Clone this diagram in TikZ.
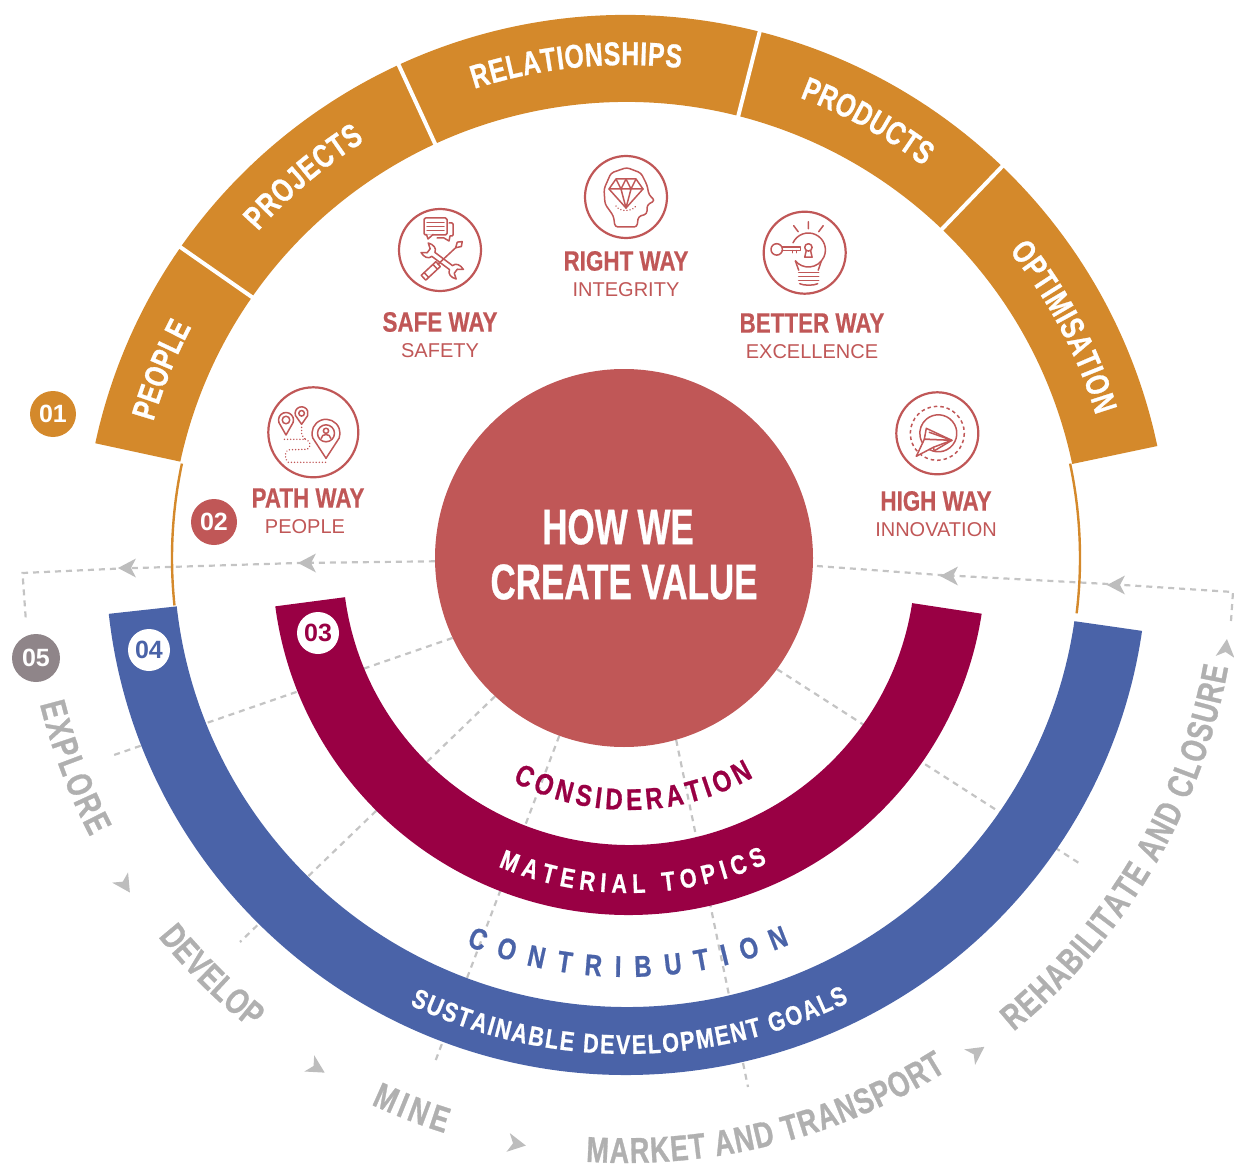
\documentclass[tikz,border=0pt]{standalone}
\usepackage{fontspec}
\setmainfont{Liberation Sans}
\newfontfamily\condfont[FakeStretch=0.75,BoldFeatures={FakeBold=0.8}]{Liberation Sans}
\newfontfamily\waytfont[FakeStretch=0.80,BoldFeatures={FakeBold=0.5}]{Liberation Sans}
\newfontfamily\coretext[FakeStretch=0.70,BoldFeatures={FakeBold=0.7}]{Liberation Sans}
\newfontfamily\waterfont[FakeStretch=0.80,BoldFeatures={FakeBold=0.7}]{Liberation Sans}
\usetikzlibrary{decorations.text,backgrounds}
\definecolor{orangeB}{HTML}{D4892B}
\definecolor{redC}{HTML}{C05757}
\definecolor{magB}{HTML}{990044}
\definecolor{blueB}{HTML}{4A63A8}
\definecolor{gr5}{HTML}{8F8589}
\definecolor{grT}{HTML}{B0B0B0}
\definecolor{grA}{HTML}{BDBDBD}
\definecolor{grD}{HTML}{C4C4C4}
\tikzset{
  flow/.style={draw=grD,line width=2.2pt,dash pattern=on 6pt off 5pt},
  sepline/.style={draw=white,line width=4pt},
  badge/.style={circle,inner sep=0pt,minimum size=#1,font=\fontsize{25}{25}\selectfont\bfseries},
  waytitle/.style={text=redC,font=\fontsize{28}{28}\selectfont\waytfont\bfseries,inner sep=0pt},
  waysub/.style={text=redC,font=\fontsize{20}{20}\selectfont,inner sep=0pt},
  icon/.style={circle,draw=redC,line width=2.2pt,inner sep=0pt,minimum size=#1},
  il/.style={draw=redC,line width=1.5pt,line join=round,line cap=round},
  ild/.style={draw=redC,line width=1.5pt,line cap=round,dash pattern=on 0.1pt off 3pt},
  coretitle/.style={text=white,font=\fontsize{50}{50}\selectfont\coretext\bfseries,inner sep=0pt}
}
\newcommand\sector[5]{\fill[#5] (#1:#4) arc[start angle=#1,end angle=#2,radius=#4] -- (#2:#3) arc[start angle=#2,end angle=#1,radius=#3] -- cycle;}
\newcommand\curvetxt[5]{\path[decorate,decoration={text along path,text align={fit to path},text={|#4|#5}}] (#2:#1) arc[start angle=#2,end angle=#3,radius=#1];}
\newcommand\ahead[3]{\fill[grA,shift={(#1,#2)},rotate=#3] (9,0) -- (-9,-9.5) -- (-4,0) -- (-9,9.5) -- cycle;}
\newcommand\mappin[4]{\filldraw[il,fill=white] (#1,#2+#4) -- ([shift={(#1,#2)}]160:#3) arc[start angle=160,end angle=380,radius=#3] -- cycle;}
\newcommand\bandfmt[1]{\color{#1}\fontsize{33}{33}\selectfont\condfont\bfseries}
\newcommand\grayfmt{\color{grT}\fontsize{36}{36}\selectfont\condfont\bfseries}
\newcommand\smallfmt[1]{\color{#1}\fontsize{27}{27}\selectfont\waterfont\bfseries}
\newcommand\midfmt[1]{\color{#1}\fontsize{30}{30}\selectfont\waterfont\bfseries}
\begin{document}
\begin{tikzpicture}[x=1pt,y=-1pt]
\useasboundingbox (0,0) rectangle (1234,1166);
% core
\node[circle,fill=redC,minimum size=378pt,inner sep=0pt] (core) at (624,558) {};
\node[coretitle] (howwe) at (618,527) {HOW WE};
\node[coretitle] (createvalue) at (624,582) {CREATE VALUE};
% coordinates
\coordinate (fl1) at (298,563);
\coordinate (fl2) at (120,568.5);
\coordinate (fl3) at (22.5,573);
\coordinate (fl4) at (26,622);
\coordinate (fr0) at (817,566);
\coordinate (fr1) at (940,575);
\coordinate (fr2) at (1108,584);
\coordinate (fr3) at (1233,592);
\coordinate (fr4) at (1231,621);
\coordinate (sp1) at (114,755);
\coordinate (sp2) at (240,942);
\coordinate (sp3) at (435,1062);
\coordinate (sp4) at (748,1087);
\coordinate (sp5) at (1082,865);
\begin{scope}[on background layer]
\draw[flow] (core.181) -- (fl1) -- (fl2) -- (fl3) -- (fl4);
\draw[flow] (fr4) -- (fr3) -- (fr2) -- (fr1) -- (fr0);
\draw[flow] (core.205.2) -- (sp1);
\draw[flow] (core.227.1) -- (sp2);
\draw[flow] (core.250.8) -- (sp3);
\draw[flow] (core.-74.3) -- (sp4);
\draw[flow] (core.-36) -- (sp5);
\end{scope}
% arrowheads
\ahead{127}{568}{180}
\ahead{307}{563}{180}
\ahead{949}{576}{180}
\ahead{1116}{585}{180}
\ahead{125}{885}{-57}
\ahead{317}{1068}{-31}
\ahead{517}{1144}{-10}
\ahead{977}{1052}{35}
\ahead{1226}{648}{84}
% orange ring
\begin{scope}[shift={(626,558)},y=1pt]
\draw[orangeB,line width=2.4pt] (168:454) arc[start angle=168,end angle=186,radius=454];
\draw[orangeB,line width=2.4pt] (12:454) arc[start angle=12,end angle=-7,radius=454];
\sector{167.8}{11.9}{456}{543}{orangeB}
\foreach \a in {145.1,114.75,75.75,46.15}{\draw[sepline] (\a:454) -- (\a:546);}
\curvetxt{492}{163.9}{152}{\bandfmt{white}}{PEOPLE}
\curvetxt{492}{138.4}{122.1}{\bandfmt{white}}{PROJECTS}
\curvetxt{493}{107.9}{83.6}{\bandfmt{white}}{RELATIONSHIPS}
\curvetxt{492}{69.3}{52.8}{\bandfmt{white}}{PRODUCTS}
\curvetxt{491}{38.7}{16.9}{\bandfmt{white}}{OPTIMISATION}
% grey outer texts
\curvetxt{604}{194}{207.5}{\grayfmt}{EXPLORE}
\curvetxt{602}{219}{231.5}{\grayfmt}{DEVELOP}
\curvetxt{603}{245}{252.5}{\grayfmt}{MINE}
\curvetxt{605}{266.2}{302}{\grayfmt}{MARKET AND TRANSPORT}
\curvetxt{612}{309.3}{349.7}{\grayfmt}{REHABILITATE AND CLOSURE}
\end{scope}
% blue
\begin{scope}[shift={(626.5,557)},xscale=1.0056,y=1pt]
\sector{186.3}{351.8}{450}{518}{blueB}
\curvetxt{497}{244.3}{296.4}{\smallfmt{white}}{SUSTAINABLE DEVELOPMENT GOALS}
\curvetxt{420}{247.7}{292.7}{\midfmt{blueB}}{CONTRIBUTION}
\end{scope}
% magenta
\begin{scope}[shift={(629,560)},xscale=1.005,y=1pt]
\sector{187.5}{351.3}{285}{355}{magB}
\curvetxt{333}{247}{294.4}{\smallfmt{white}}{MATERIAL TOPICS}
\curvetxt{250}{242.4}{299.7}{\midfmt{magB}}{CONSIDERATION}
\end{scope}
% badges
\node[badge=46pt,fill=orangeB,text=white] (b1) at (53,414) {01};
\node[badge=46pt,fill=redC,text=white] (b2) at (214,522) {02};
\node[badge=42pt,fill=white,text=magB] (b3) at (318,633) {03};
\node[badge=42pt,fill=white,text=blueB] (b4) at (149,650) {04};
\node[badge=48pt,fill=gr5,text=white] (b5) at (36,658) {05};
% labels
\node[waytitle] (lPath) at (308,498) {PATH WAY};
\node[waysub] (sPath) at (305,527) {PEOPLE};
\node[waytitle] (lSafe) at (440,322) {SAFE WAY};
\node[waysub] (sSafe) at (440,351) {SAFETY};
\node[waytitle] (lRight) at (626,261) {RIGHT WAY};
\node[waysub] (sRight) at (626,290) {INTEGRITY};
\node[waytitle] (lBetter) at (812,323) {BETTER WAY};
\node[waysub] (sBetter) at (812,352) {EXCELLENCE};
\node[waytitle] (lHigh) at (936,501) {HIGH WAY};
\node[waysub] (sHigh) at (936,530) {INNOVATION};
% icon circles
\node[icon=82pt] (iSafe) at (440,250) {};
\node[icon=82pt] (iRight) at (626,197) {};
\node[icon=82pt] (iBetter) at (804.7,252.7) {};
\node[icon=82pt] (iHigh) at (937.3,433.3) {};
\node[icon=90pt] (iPath) at (313.3,432.3) {};
% safe icon
\begin{scope}[shift={(iSafe)}]
\draw[il] (9,-27) -- (12,-27) -- (13,-26) -- (13,-15) -- (12,-14) -- (10,-14) -- (9,-9) -- (4,-12) -- (-3,-12);
\draw[il,rounded corners=1.5pt] (-16,-32) rectangle (7,-15);
\filldraw[il,fill=white] (-13.5,-15.5) -- (-12,-11) -- (-7,-15.5);
\draw[il] (-13,-27.5) -- (4,-27.5) (-13,-23.5) -- (4,-23.5) (-13,-19.5) -- (4,-19.5);
\begin{scope}[shift={(2.2,11)},rotate=-37]
\filldraw[il,fill=white] (11,-2.5) .. controls (12,-7) and (17,-8) .. (22,-6) -- (17,-2.5) -- (17,2.5) -- (22,6) .. controls (17,8) and (12,7) .. (11,2.5) -- (-11,2.5) .. controls (-12,7) and (-17,8) .. (-22,6) -- (-17,2.5) -- (-17,-2.5) -- (-22,-6) .. controls (-17,-8) and (-12,-7) .. (-11,-2.5) -- cycle;
\end{scope}
\begin{scope}[shift={(2.5,10)},rotate=43]
\filldraw[il,fill=white] (-26,-3.3) rectangle (-6,3.3);
\draw[il] (-22,-3.3) -- (-22,3.3) (-10,-3.3) -- (-10,3.3);
\draw[il] (-6,0) -- (21,0);
\filldraw[il,fill=white] (18,0) -- (23,-3) -- (27,0) -- (23,3) -- cycle;
\end{scope}
\end{scope}
% right icon
\begin{scope}[shift={(iRight)}]
\draw[il,rounded corners=3pt] (-11,30) -- (-12.5,19) -- (-21,7) -- (-22,-8) -- (-15,-24) -- (0.7,-29.5) -- (15,-24) -- (21,-12) -- (23,-2) -- (29,3.5) -- (21,8) -- (21,17) -- (12.3,19.5) -- (11,30) -- cycle;
\draw[il] (-10,-18) -- (10,-18) -- (17,-8) -- (0,11) -- (-17,-8) -- cycle;
\draw[il] (-17,-8) -- (17,-8) (-10,-18) -- (-5,-8) -- (0,-18) -- (5,-8) -- (10,-18) (-5,-8) -- (0,11) -- (5,-8);
\draw[ild] (-10,9) .. controls (-7,15) and (6,15) .. (10,9);
\end{scope}
% better icon
\begin{scope}[shift={(iBetter)}]
\draw[il] ([shift={(3.7,-2.7)}]205:17) arc[start angle=205,end angle=500,radius=17];
\draw[il] (-9.3,8.2) -- (-6,17.5) (16.7,8.2) -- (13.5,17.5);
\draw[il] (-6,20) -- (14,20) (-6,24) -- (14,24) (-6,28) -- (14,28);
\draw[il] (-5,31) .. controls (-1,33) and (9,33) .. (13,31);
\draw[il] (3.7,-31) -- (3.7,-24) (-11,-27) -- (-6.5,-21) (18.5,-27) -- (14,-21);
\draw[il] (-28,-3.3) circle[radius=5.7];
\draw[il] (-22.5,-5.5) -- (-4,-5.5) -- (-4,-2) -- (-22.5,-2);
\draw[il] (-8,-2) -- (-8,0) (-12,-2) -- (-12,0);
\draw[il] (3.7,-5.3) circle[radius=3.7];
\draw[il] (1.5,-2) -- (0,4.5) -- (7.4,4.5) -- (5.9,-2);
\end{scope}
% high icon
\begin{scope}[shift={(iHigh)}]
\draw[draw=redC,line width=1.5pt,dash pattern=on 3.5pt off 3pt] (0,0) circle[radius=27];
\draw[il] ([shift={(1,0)}]140:18.5) arc[start angle=140,end angle=-225,radius=18.5] ;
\filldraw[il,fill=white] (14.5,7) -- (-11,-5) -- (-13,6) -- cycle;
\filldraw[il,fill=white] (14.5,7) -- (-13,6) -- (-21,23) -- (-4,14) -- cycle;
\draw[il] (-8,-1) -- (14.5,7) -- (-3,17.5) -- (-4,14);
\end{scope}
% path icon
\begin{scope}[shift={(iPath)}]
\draw[ild] (-11.7,-5) -- (-11.7,2.5) -- (-8,7) -- (-30,7) (-8,7) .. controls (-2,9) and (-2,14) .. (-6,17) -- (-25,17.5) .. controls (-29,19) and (-29,27) .. (-25,30) -- (13,30);
\mappin{-27.3}{-12.3}{7.5}{15}
\draw[il] (-27.3,-12.3) circle[radius=3.8];
\mappin{-11.7}{-19}{6.5}{11}
\draw[il] (-11.7,-19) circle[radius=2.8];
\mappin{12.7}{1}{14}{25}
\draw[il] (12.7,1) circle[radius=8.5];
\draw[il] (12.7,-1.5) circle[radius=2.6];
\draw[il] (8,6) .. controls (8,1) and (17.4,1) .. (17.4,6);
\end{scope}
\end{tikzpicture}
\end{document}
